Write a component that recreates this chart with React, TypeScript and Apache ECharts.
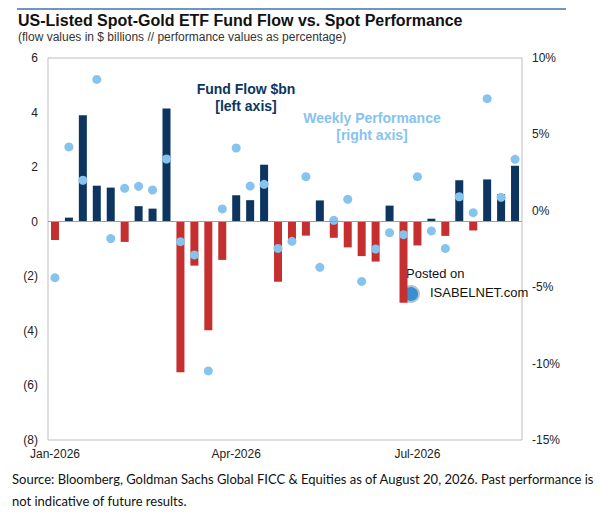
import React, { useEffect, useRef } from 'react';
import * as echarts from 'echarts';

// weekly observations (Friday week-ends)
const weeks = [
  '2026-01-02', '2026-01-09', '2026-01-16', '2026-01-23', '2026-01-30',
  '2026-02-06', '2026-02-13', '2026-02-20', '2026-02-27',
  '2026-03-06', '2026-03-13', '2026-03-20', '2026-03-27',
  '2026-04-03', '2026-04-10', '2026-04-17', '2026-04-24',
  '2026-05-01', '2026-05-08', '2026-05-15', '2026-05-22', '2026-05-29',
  '2026-06-05', '2026-06-12', '2026-06-19', '2026-06-26',
  '2026-07-03', '2026-07-10', '2026-07-17', '2026-07-24', '2026-07-31',
  '2026-08-07', '2026-08-14', '2026-08-21',
];

// fund flow, $bn (left axis)
const fundFlow = [
  -0.67, 0.15, 3.9, 1.32, 1.25, -0.74, 0.57, 0.48, 4.15,
  -5.52, -1.61, -3.98, -1.4, 0.97, 0.79, 2.09, -2.2, -0.79,
  -0.51, 0.78, -0.59, -0.94, -1.26, -1.46, 0.59, -2.97, -0.87,
  0.11, -0.52, 1.52, -0.32, 1.55, 1.01, 2.05,
];

// weekly spot performance, % (right axis)
const weeklyPerf = [
  -4.38, 4.18, 2.0, 8.6, -1.82, 1.47, 1.6, 1.36, 3.39,
  -2.02, -2.89, -10.48, 0.12, 4.11, 1.62, 1.73, -2.46, -2.0,
  2.23, -3.7, -0.62, 0.75, -4.62, -2.5, -1.43, -1.56, 2.23,
  -1.32, -2.46, 0.92, -0.12, 7.34, 0.88, 3.37,
];

const leftTicks = { min: -8, max: 6, interval: 2 };
const rightTicks = { min: -15, max: 10, interval: 5 };

const NAVY = '#0d355f';
const RED = '#c62f2f';
const LIGHT = '#86c3ef';
const MONTHS = ['Jan', 'Feb', 'Mar', 'Apr', 'May', 'Jun', 'Jul', 'Aug', 'Sep', 'Oct', 'Nov', 'Dec'];

const App: React.FC = () => {
  const chartRef = useRef<HTMLDivElement>(null);

  useEffect(() => {
    if (!chartRef.current) return;
    const chart = echarts.init(chartRef.current, undefined, { renderer: 'svg' });

    const font = 'Arial, "Liberation Sans", sans-serif';

    const option = {
      animation: false,
      backgroundColor: '#fff',
      textStyle: { fontFamily: font },
      grid: {
        left: 48,
        right: 78,
        top: 58,
        bottom: 80,
        show: true,
        borderColor: '#bdbdbd',
        borderWidth: 1,
      },
      xAxis: {
        type: 'category',
        data: weeks,
        boundaryGap: true,
        axisLine: { show: false },
        axisTick: { show: false },
        splitLine: { show: false },
        axisLabel: {
          interval: 12,
          margin: 8,
          color: '#222',
          fontSize: 12,
          fontFamily: font,
          formatter: (v: string) => {
            const [y, m] = v.split('-');
            return `${MONTHS[parseInt(m, 10) - 1]}-${y}`;
          },
        },
      },
      yAxis: [
        {
          type: 'value',
          position: 'left',
          ...leftTicks,
          axisLine: { show: false },
          axisTick: { show: false },
          splitLine: { show: false },
          axisLabel: {
            margin: 10,
            color: '#222',
            fontSize: 12,
            fontFamily: font,
            formatter: (v: number) => (v < 0 ? `(${Math.abs(v)})` : `${v}`),
          },
        },
        {
          type: 'value',
          position: 'right',
          ...rightTicks,
          axisLine: { show: false },
          axisTick: { show: false },
          splitLine: { show: false },
          axisLabel: {
            margin: 10,
            color: '#222',
            fontSize: 12,
            fontFamily: font,
            formatter: (v: number) => `${v}%`,
          },
        },
      ],
      series: [
        {
          name: 'Fund Flow $bn',
          type: 'bar',
          yAxisIndex: 0,
          barWidth: 8,
          data: fundFlow,
          itemStyle: {
            color: (p: { value: number }) => (p.value >= 0 ? NAVY : RED),
          },
          markLine: {
            silent: true,
            symbol: 'none',
            label: { show: false },
            lineStyle: { color: '#9e9e9e', width: 1, type: 'solid' },
            data: [{ yAxis: 0 }],
          },
          z: 2,
        },
        {
          name: 'Weekly Performance',
          type: 'scatter',
          yAxisIndex: 1,
          symbolSize: 9,
          data: weeklyPerf,
          itemStyle: { color: LIGHT, opacity: 1 },
          z: 3,
        },
      ],
      graphic: [
        {
          type: 'line',
          shape: { x1: 17, y1: 9, x2: 566, y2: 9 },
          style: { stroke: '#6f95c4', lineWidth: 2 },
        },
        {
          type: 'text',
          left: 18,
          top: 12,
          style: {
            text: 'US-Listed Spot-Gold ETF Fund Flow vs. Spot Performance',
            font: `bold 16px ${font}`,
            fill: '#111',
          },
        },
        {
          type: 'text',
          left: 18,
          top: 31,
          style: {
            text: '(flow values in $ billions // performance values as percentage)',
            font: `12px ${font}`,
            fill: '#333',
          },
        },
        {
          type: 'text',
          x: 246,
          y: 80,
          style: {
            text: 'Fund Flow $bn\n[left axis]',
            font: `bold 14px ${font}`,
            fill: NAVY,
            align: 'center',
            lineHeight: 17,
          },
        },
        {
          type: 'text',
          x: 372,
          y: 109,
          style: {
            text: 'Weekly Performance\n[right axis]',
            font: `bold 14px ${font}`,
            fill: LIGHT,
            align: 'center',
            lineHeight: 17,
          },
        },
        {
          type: 'text',
          x: 406,
          y: 267,
          style: { text: 'Posted on', font: `13px ${font}`, fill: '#111' },
        },
        {
          type: 'circle',
          shape: { cx: 411, cy: 294, r: 8 },
          style: { fill: '#3a8fd0', stroke: '#b8c2cc', lineWidth: 2 },
        },
        {
          type: 'text',
          x: 430,
          y: 286,
          style: { text: 'ISABELNET.com', font: `13px ${font}`, fill: '#111' },
        },
        {
          type: 'text',
          left: 12,
          top: 468,
          style: {
            text:
              'Source: Bloomberg, Goldman Sachs Global FICC & Equities as of August 20, 2026. Past performance is\nnot indicative of future results.',
            font: '13px Lato, "Open Sans", sans-serif',
            fill: '#111',
            lineHeight: 22,
          },
        },
      ],
    };

    chart.setOption(option as any);

    return () => {
      chart.dispose();
    };
  }, []);

  return (
    <div
      ref={chartRef}
      style={{ position: 'fixed', left: 0, top: 0, width: '600px', height: '520px' }}
      aria-label="US-Listed Spot-Gold ETF Fund Flow vs. Spot Performance"
      role="img"
    />
  );
};

export default App;
